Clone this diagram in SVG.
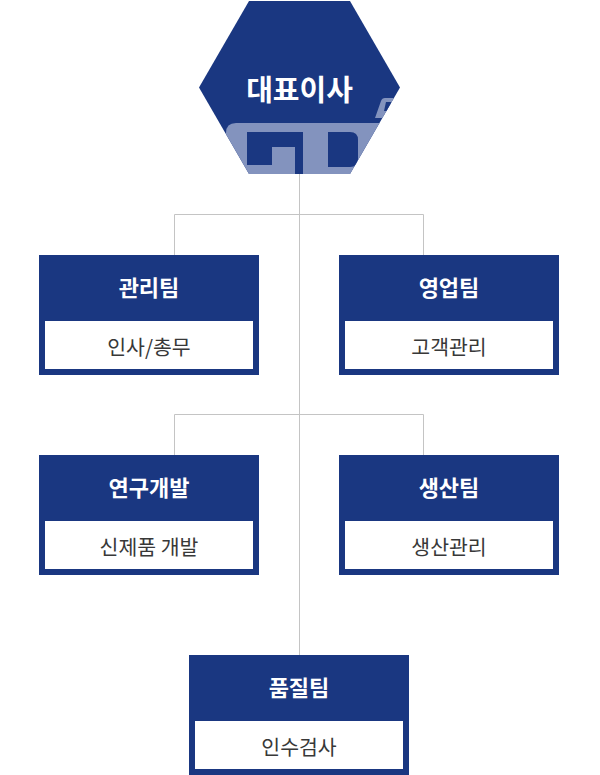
<svg xmlns="http://www.w3.org/2000/svg" width="600" height="775" viewBox="0 0 600 775">
<style>
.box{fill:#1a3781}
.inner{fill:#ffffff}
.title{font-family:"Noto Sans CJK KR","Noto Sans",sans-serif;font-weight:700;font-size:22px;fill:#ffffff;text-anchor:middle;dominant-baseline:central}
.sub{font-family:"Noto Sans CJK KR","Noto Sans",sans-serif;font-weight:400;font-size:20.5px;fill:#383838;text-anchor:middle;dominant-baseline:central}
.line{fill:none;stroke:#c4c4c4;stroke-width:1}
</style>
<defs>
<clipPath id="hexclip"><polygon points="249,1 350,1 400,87.5 350,174 249,174 199,87.5"/></clipPath>
</defs>
<rect width="600" height="775" fill="#ffffff"/>
<g id="connectors">
<path class="line" d="M299.5,174 V655"/>
<path class="line" d="M174.5,255 V214.5 H423.5 V255"/>
<path class="line" d="M174.5,455 V414.5 H423.5 V455"/>
</g>
<g id="ceo">
<polygon class="box" points="249,1 350,1 400,87.5 350,174 249,174 199,87.5"/>
<g clip-path="url(#hexclip)">
<path fill="#8393be" d="M236,123 H400 V175 H226 V133 Q226,123 236,123 Z"/>
<path fill="#8393be" d="M375,118 L381,101 Q382,98 385,98 H398 V118 Z"/>
<path fill="#1a3781" d="M386,102 H391 V111 H384 Z"/>
<path fill="#1a3781" d="M247,132 H303 V175 H295 V147 H272 V165 H247 Z"/>
<path fill="#1a3781" d="M328,132 H350 Q358,132 358,140 V159 Q358,167 350,167 H328 Z"/>
</g>
<text x="299.5" y="88" font-family="Noto Sans CJK KR, Noto Sans, sans-serif" font-weight="700" font-size="29" fill="#ffffff" text-anchor="middle" dominant-baseline="central">대표이사</text>
</g>
<g id="mgmt">
<rect class="box" x="39" y="255" width="220" height="120"/>
<rect class="inner" x="45" y="321" width="208" height="48"/>
<text class="title" x="149" y="286">관리팀</text>
<text class="sub" x="149" y="345.5">인사/총무</text>
</g>
<g id="sales">
<rect class="box" x="339" y="255" width="220" height="120"/>
<rect class="inner" x="345" y="321" width="208" height="48"/>
<text class="title" x="449" y="286">영업팀</text>
<text class="sub" x="449" y="345.5">고객관리</text>
</g>
<g id="rnd">
<rect class="box" x="39" y="455" width="220" height="120"/>
<rect class="inner" x="45" y="521" width="208" height="48"/>
<text class="title" x="149" y="486">연구개발</text>
<text class="sub" x="149" y="545.5">신제품 개발</text>
</g>
<g id="prod">
<rect class="box" x="339" y="455" width="220" height="120"/>
<rect class="inner" x="345" y="521" width="208" height="48"/>
<text class="title" x="449" y="486">생산팀</text>
<text class="sub" x="449" y="545.5">생산관리</text>
</g>
<g id="qa">
<rect class="box" x="189" y="655" width="220" height="120"/>
<rect class="inner" x="195" y="721" width="208" height="48"/>
<text class="title" x="299" y="686">품질팀</text>
<text class="sub" x="299" y="745.5">인수검사</text>
</g>
</svg>
